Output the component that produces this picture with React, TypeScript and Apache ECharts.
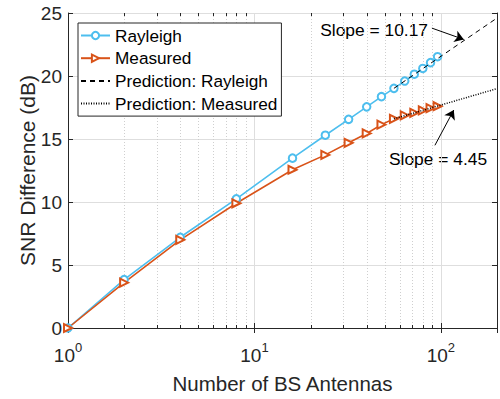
import React, { useEffect, useRef } from "react";
import * as echarts from "echarts";

const antennas = [1, 2, 4, 8, 16, 24, 32, 40, 48, 56, 64, 72, 80, 88, 96];
const rayleigh = [0, 3.84, 7.2, 10.25, 13.48, 15.3, 16.56, 17.55, 18.36, 19.02, 19.6, 20.14, 20.6, 21.06, 21.53];
const measured = [0, 3.6, 7.0, 9.9, 12.56, 13.74, 14.7, 15.44, 16.14, 16.6, 16.87, 17.08, 17.27, 17.45, 17.6];
const predRayleighX = [56, 200];
const predRayleighY = [19.02, 24.6];
const predMeasuredX = [56, 200];
const predMeasuredY = [16.6, 19.0];
const minorTicks = [2, 3, 4, 5, 6, 7, 8, 9, 20, 30, 40, 50, 60, 70, 80, 90];
const yTicks = [0, 5, 10, 15, 20, 25];
const legendNames = ["Rayleigh", "Measured", "Prediction: Rayleigh", "Prediction: Measured"];
const arrowRayleigh = [[89.5, 23.8], [132.7, 22.9]];
const arrowMeasured = [[92.9, 14.5], [117.3, 17.3]];
const slopeTexts = ["Slope = 10.17", "Slope = 4.45"];

const FONT = "'Liberation Sans', Arial, Helvetica, sans-serif";
const AX = "#262626";
const BLUE = "#4DBEEE";
const ORANGE = "#D95319";

export default function App() {
  const ref = useRef<HTMLDivElement>(null);
  useEffect(() => {
    if (!ref.current) return;
    const chart = echarts.init(ref.current, null, { renderer: "svg" });
    const isPow10 = (v: number) => {
      const l = Math.log10(v);
      return Math.abs(l - Math.round(l)) < 1e-6;
    };
    const option: any = {
      animation: false,
      backgroundColor: "#fff",
      textStyle: { fontFamily: FONT },
      grid: { left: 68, right: 2, top: 13, bottom: 67, containLabel: false },
      legend: {
        orient: "vertical",
        left: 78,
        top: 23,
        data: [
          { name: legendNames[0] },
          { name: legendNames[1] },
          { name: legendNames[2], itemStyle: { opacity: 0 } },
          { name: legendNames[3], itemStyle: { opacity: 0 } },
        ],
        backgroundColor: "#fff",
        borderColor: AX,
        borderWidth: 1,
        borderRadius: 0,
        padding: [4, 4, 4, 2],
        itemWidth: 29,
        itemHeight: 9,
        itemGap: 5.7,
        textStyle: { fontSize: 17.2, color: "#000", fontFamily: FONT, lineHeight: 17 },
      },
      xAxis: [
        {
          type: "log",
          logBase: 10,
          min: 1,
          max: 200,
          position: "bottom",
          name: "Number of BS Antennas",
          nameLocation: "middle",
          nameGap: 45,
          nameMoveOverlap: false,
          nameTextStyle: { fontSize: 20.5, color: AX, fontFamily: FONT },
          axisLine: { show: true, lineStyle: { color: AX, width: 1 } },
          axisTick: { show: true, inside: true, length: 5, lineStyle: { color: AX } },
          axisLabel: {
            margin: 13,
            color: AX,
            formatter: (v: number) => {
              if (!isPow10(v)) return "";
              const e = Math.round(Math.log10(v));
              return "{b|10}{s|" + e + "}";
            },
            rich: {
              b: { fontSize: 19, lineHeight: 24, color: AX, fontFamily: FONT, verticalAlign: "bottom" },
              s: { fontSize: 13, lineHeight: 10, color: AX, fontFamily: FONT, verticalAlign: "top" },
            },
          },
          splitLine: { show: true, lineStyle: { color: "#dedede", width: 1 } },
          minorTick: { show: false },
        },
        {
          type: "log",
          logBase: 10,
          min: 1,
          max: 200,
          position: "top",
          axisLine: { show: true, lineStyle: { color: AX, width: 1 } },
          axisTick: { show: true, inside: true, length: 5, lineStyle: { color: AX } },
          axisLabel: { show: false },
          splitLine: { show: false },
        },
      ],
      yAxis: [
        {
          type: "value",
          min: 0,
          max: 25,
          interval: 5,
          position: "left",
          name: "SNR Difference (dB)",
          nameLocation: "middle",
          nameGap: 30,
          nameMoveOverlap: false,
          nameRotate: 90,
          nameTextStyle: { fontSize: 21, color: AX, fontFamily: FONT },
          axisLine: { show: true, lineStyle: { color: AX, width: 1 } },
          axisTick: { show: true, inside: true, length: 5, lineStyle: { color: AX } },
          axisLabel: {
            margin: 6,
            fontSize: 19,
            color: AX,
            fontFamily: FONT,
            formatter: (v: number) => (yTicks.indexOf(v) >= 0 ? String(v) : ""),
          },
          splitLine: { show: true, lineStyle: { color: "#dedede", width: 1 } },
        },
        {
          type: "value",
          min: 0,
          max: 25,
          interval: 5,
          position: "right",
          axisLine: { show: true, lineStyle: { color: AX, width: 1 } },
          axisTick: { show: true, inside: true, length: 5, lineStyle: { color: AX } },
          axisLabel: { show: false },
          splitLine: { show: false },
        },
      ],
      graphic: [
        {
          type: "text",
          x: 428,
          y: 30,
          style: {
            text: slopeTexts[0],
            fontSize: 17.4,
            fontFamily: FONT,
            fill: "#000",
            align: "right",
            verticalAlign: "middle",
          },
        },
        {
          type: "text",
          x: 438,
          y: 159,
          style: {
            text: slopeTexts[1],
            fontSize: 17.4,
            fontFamily: FONT,
            fill: "#000",
            align: "center",
            verticalAlign: "middle",
          },
        },
      ],
      series: [
        {
          type: "custom",
          name: "minorgrid",
          xAxisIndex: 0,
          yAxisIndex: 0,
          silent: true,
          z: 1,
          data: minorTicks.map((v) => [v, 0]),
          encode: { x: 0, y: 1 },
          renderItem: (params: any, api: any) => {
            const cs = params.coordSys;
            const x = Math.round(api.coord([api.value(0), 0])[0]) + 0.5;
            const top = cs.y;
            const bot = cs.y + cs.height;
            return {
              type: "group",
              children: [
                {
                  type: "line",
                  shape: { x1: x, y1: top, x2: x, y2: bot },
                  style: { stroke: "#cfcfcf", lineWidth: 1, lineDash: [1, 2] },
                },
                {
                  type: "line",
                  shape: { x1: x, y1: bot, x2: x, y2: bot - 3 },
                  style: { stroke: AX, lineWidth: 1 },
                },
                {
                  type: "line",
                  shape: { x1: x, y1: top, x2: x, y2: top + 3 },
                  style: { stroke: AX, lineWidth: 1 },
                },
              ],
            };
          },
        },
        {
          name: legendNames[0],
          type: "line",
          z: 3,
          data: antennas.map((x, i) => [x, rayleigh[i]]),
          color: BLUE,
          lineStyle: { color: BLUE, width: 1.6 },
          itemStyle: { color: BLUE, borderWidth: 1.6 },
          symbol: "emptyCircle",
          symbolSize: 7.5,
          showAllSymbol: true,
        },
        {
          name: legendNames[1],
          type: "line",
          z: 3,
          data: antennas.map((x, i) => [x, measured[i]]),
          color: ORANGE,
          lineStyle: { color: ORANGE, width: 1.6 },
          itemStyle: { color: ORANGE, borderWidth: 1.6 },
          symbol: "emptyTriangle",
          symbolRotate: -90,
          symbolSize: 8,
          showAllSymbol: true,
        },
        {
          name: legendNames[2],
          type: "line",
          z: 4,
          data: predRayleighX.map((x, i) => [x, predRayleighY[i]]),
          color: "#000",
          symbol: "none",
          lineStyle: { color: "#000", width: 1, type: [5, 4] },
          markLine: {
            silent: true,
            symbol: ["none", "arrow"],
            symbolSize: 9,
            label: { show: false },
            lineStyle: { type: "solid", color: "#000", width: 1 },
            data: [[{ coord: arrowRayleigh[0] }, { coord: arrowRayleigh[1] }]],
          },
        },
        {
          name: legendNames[3],
          type: "line",
          z: 4,
          data: predMeasuredX.map((x, i) => [x, predMeasuredY[i]]),
          color: "#000",
          symbol: "none",
          lineStyle: { color: "#000", width: 1.5, type: [1, 1.5] },
          markLine: {
            silent: true,
            symbol: ["none", "arrow"],
            symbolSize: 9,
            label: { show: false },
            lineStyle: { type: "solid", color: "#000", width: 1 },
            data: [[{ coord: arrowMeasured[0] }, { coord: arrowMeasured[1] }]],
          },
        },
      ],
    };
    chart.setOption(option);
    return () => chart.dispose();
  }, []);
  return <div ref={ref} style={{ width: 500, height: 399, position: "absolute", left: 0, top: 0 }} />;
}
